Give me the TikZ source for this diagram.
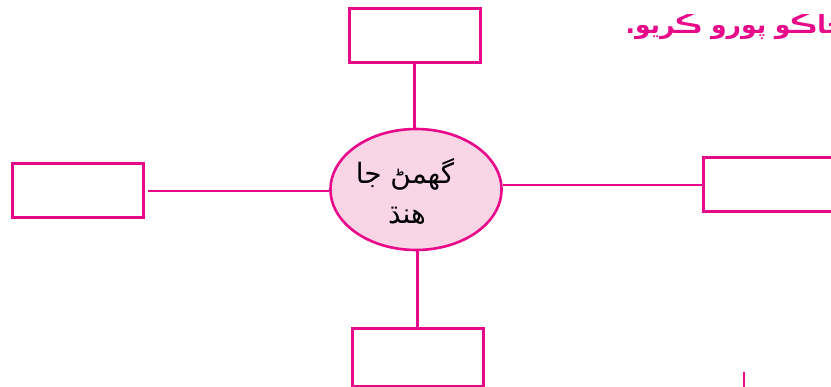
\documentclass[tikz,border=0pt]{standalone}
\usepackage{fontspec}
\usetikzlibrary{shapes.geometric}
\newfontfamily\arabicfont[Script=Arabic]{DejaVu Sans}
\TeXXeTstate=1
\definecolor{mag}{HTML}{E8088A}
\definecolor{pinkfill}{HTML}{F9D5E6}
\tikzset{
  box/.style={draw=mag, line width=3pt, fill=white, minimum width=131pt, minimum height=54pt, inner sep=0pt},
  conn/.style={draw=mag, line width=2.6pt},
  ctext/.style={font=\arabicfont\fontsize{28}{32}\selectfont, text=black, inner sep=0pt},
}
\begin{document}
\begin{tikzpicture}[x=1pt,y=-1pt]
\useasboundingbox (0,0) rectangle (831,387);
\clip (0,0) rectangle (831,387);
\node[box] (top) at (414.5,36) {};
\node[box] (left) at (77.5,191) {};
\node[box] (right) at (769,185) {};
\node[box, minimum height=58pt] (bottom) at (417.5,358) {};
\node[draw=mag, line width=2.6pt, fill=pinkfill, ellipse, minimum width=171pt, minimum height=121pt, inner sep=0pt] (c) at (416,189.5) {};
\node[ctext] (t1) at (405,174) {\beginR گهمڻ جا\endR};
\node[ctext] (t2) at (407,216) {\beginR هنڌ\endR};
\draw[conn] (top.south) -- (c.north -| top.south);
\draw[conn] (left.east) ++(3,0) coordinate (le) -- (c.west |- le);
\draw[conn] (c.east |- right.west) -- (right.west);
\draw[conn] (c.south -| bottom.north) -- (bottom.north);
\node[font=\arabicfont\bfseries\fontsize{25}{28}\selectfont, text=mag, anchor=east, inner sep=0pt] (title) at (845,27) {\beginR خاڪو پورو ڪريو.\endR};
\coordinate (m1) at (744,372);
\coordinate (m2) at (744,390);
\draw[draw=mag, line width=2.8pt] (m1) -- (m2);
\end{tikzpicture}
\end{document}
